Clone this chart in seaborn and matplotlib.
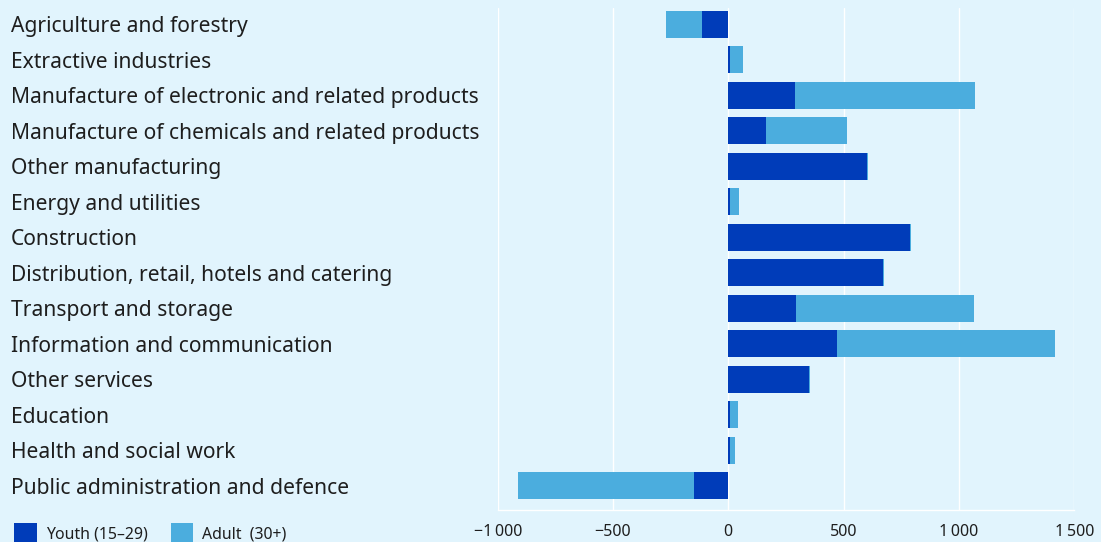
import matplotlib
matplotlib.use("Agg")
import matplotlib.pyplot as plt
import matplotlib.ticker as mticker
from matplotlib.patches import Patch
import pandas as pd
import seaborn as sns

# Change in employment by sector, split by age group
sectors = [
    "Agriculture and forestry",
    "Extractive industries",
    "Manufacture of electronic and related products",
    "Manufacture of chemicals and related products",
    "Other manufacturing",
    "Energy and utilities",
    "Construction",
    "Distribution, retail, hotels and catering",
    "Transport and storage",
    "Information and communication",
    "Other services",
    "Education",
    "Health and social work",
    "Public administration and defence",
]
youth = [-114, 8, 289, 164, 602, 8, 788, 671, 295, 473, 350, 8, 8, -149]
adult = [-156, 56, 781, 351, 5, 39, 4, 4, 772, 945, 4, 35, 22, -763]

series_labels = ["Youth (15\u201329)", "Adult  (30+)"]
x_ticks = [-1000, -500, 0, 500, 1000, 1500]
x_tick_labels = ["\u22121\u2009000", "\u2212500", "0", "500", "1\u2009000", "1\u2009500"]

DARK = "#003cb9"
LIGHT = "#4badde"
BG = "#e1f4fd"
TEXT = "#1e1e1e"

sns.set_theme(style="white", rc={"axes.facecolor": BG, "figure.facecolor": BG})
plt.rcParams["font.family"] = ["Noto Sans", "DejaVu Sans"]

df = pd.DataFrame({"sector": sectors, "youth": youth, "adult": adult})
df["total"] = df["youth"] + df["adult"]

fig = plt.figure(figsize=(11.01, 5.42), dpi=100)
ax = fig.add_axes([497.7 / 1101, 1 - 510 / 542, 576.5 / 1101, 502 / 542])

# Adult segment is the remainder of the stacked total; youth drawn over it
sns.barplot(data=df, x="total", y="sector", orient="h", color=LIGHT,
            width=0.76, saturation=1, ax=ax, zorder=2, linewidth=0)
sns.barplot(data=df, x="youth", y="sector", orient="h", color=DARK,
            width=0.76, saturation=1, ax=ax, zorder=3, linewidth=0)

ax.set_xlim(-1000, 1500)
ax.set_ylim(13.69, -0.465)
ax.set_xlabel("")
ax.set_ylabel("")

ax.xaxis.set_major_locator(mticker.FixedLocator(x_ticks))
ax.set_xticklabels(x_tick_labels)
ax.grid(axis="x", color="white", linewidth=1.0, zorder=0)
ax.set_axisbelow(True)

for side in ["top", "left", "right"]:
    ax.spines[side].set_visible(False)
ax.spines["bottom"].set_color("white")
ax.spines["bottom"].set_linewidth(1.0)

ax.tick_params(axis="x", length=0, pad=10, labelsize=11.5, labelcolor=TEXT)
ax.tick_params(axis="y", length=0, pad=486.7 * 72 / 100, labelsize=15.15, labelcolor=TEXT)
for lab in ax.get_yticklabels():
    lab.set_horizontalalignment("left")

handles = [Patch(facecolor=DARK, edgecolor="none"), Patch(facecolor=LIGHT, edgecolor="none")]
fig.legend(handles, series_labels, loc="center left", bbox_to_anchor=(14 / 1101, 1 - 533 / 542),
           ncol=2, frameon=False, fontsize=11.4, handlelength=1.45, handleheight=1.6,
           handletextpad=0.55, columnspacing=1.45, borderpad=0, borderaxespad=0,
           labelcolor=TEXT)

fig.savefig("out.png", dpi=100, facecolor=BG)
